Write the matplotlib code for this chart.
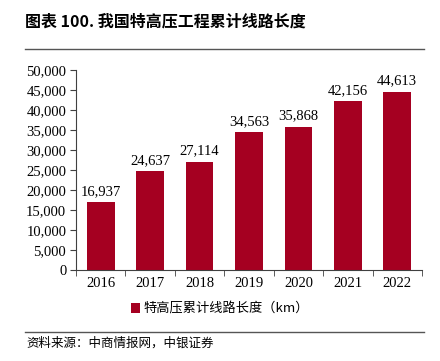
import matplotlib
matplotlib.use("Agg")
import matplotlib.pyplot as plt
from matplotlib.lines import Line2D
from matplotlib.patches import Patch
from matplotlib.ticker import FuncFormatter, FixedLocator

years = ["2016", "2017", "2018", "2019", "2020", "2021", "2022"]
values = [16937, 24637, 27114, 34563, 35868, 42156, 44613]
title = "图表 100. 我国特高压工程累计线路长度"
legend_label = "特高压累计线路长度（km）"
source = "资料来源：中商情报网，中银证券"

color = "#A50021"
cjk = ["Noto Sans CJK SC", "DejaVu Sans"]
serif = ["Liberation Serif", "DejaVu Serif"]

fig = plt.figure(figsize=(4.4, 3.61), dpi=100)
ax = fig.add_axes([76/440, 1-270/361, 346/440, 200/361])

x = list(range(len(years)))
bars = ax.bar(x, values, width=0.56, color=color, zorder=2)
for xi, v in zip(x, values):
    ax.text(xi, v + 1000, f"{v:,}", ha="center", va="bottom", fontsize=10.5, family=serif)

ax.set_xlim(-0.5, len(years) - 0.5)
ax.set_ylim(0, 50000)
ax.set_yticks(range(0, 50001, 5000))
ax.yaxis.set_major_formatter(FuncFormatter(lambda v, p: f"{int(v):,}"))
ax.set_xticks(x)
ax.set_xticklabels(years)
ax.xaxis.set_minor_locator(FixedLocator([i - 0.5 for i in range(len(years) + 1)]))
ax.tick_params(axis="x", which="major", length=0, pad=5)
ax.tick_params(axis="x", which="minor", length=4, direction="out", color="#404040")
ax.tick_params(axis="y", length=4, direction="out", color="#404040", pad=3)
for lab in ax.get_xticklabels() + ax.get_yticklabels():
    lab.set_family(serif)
    lab.set_fontsize(10.5)
for s in ["top", "right"]:
    ax.spines[s].set_visible(False)
for s in ["left", "bottom"]:
    ax.spines[s].set_color("#404040")
    ax.spines[s].set_linewidth(0.8)

handle = Patch(facecolor=color, edgecolor="none")
leg = fig.legend([handle], [legend_label], loc="center", bbox_to_anchor=(0.5, 1-309/361),
                 frameon=False, prop={"family": cjk, "size": 9.5},
                 handlelength=0.7, handleheight=0.7, handletextpad=0.3)

fig.text(25/440, 1-22/361, title, fontsize=11.5, fontweight="bold", family=cjk, va="center", ha="left")
fig.add_artist(Line2D([25/440, 424/440], [1-49/361, 1-49/361], color="#555555", lw=1.0))
fig.add_artist(Line2D([25/440, 424/440], [1-332/361, 1-332/361], color="#555555", lw=1.0))
fig.text(26/440, 1-343/361, source, fontsize=9, family=cjk, style="italic", va="center", ha="left")

fig.savefig("out.png", dpi=100)
